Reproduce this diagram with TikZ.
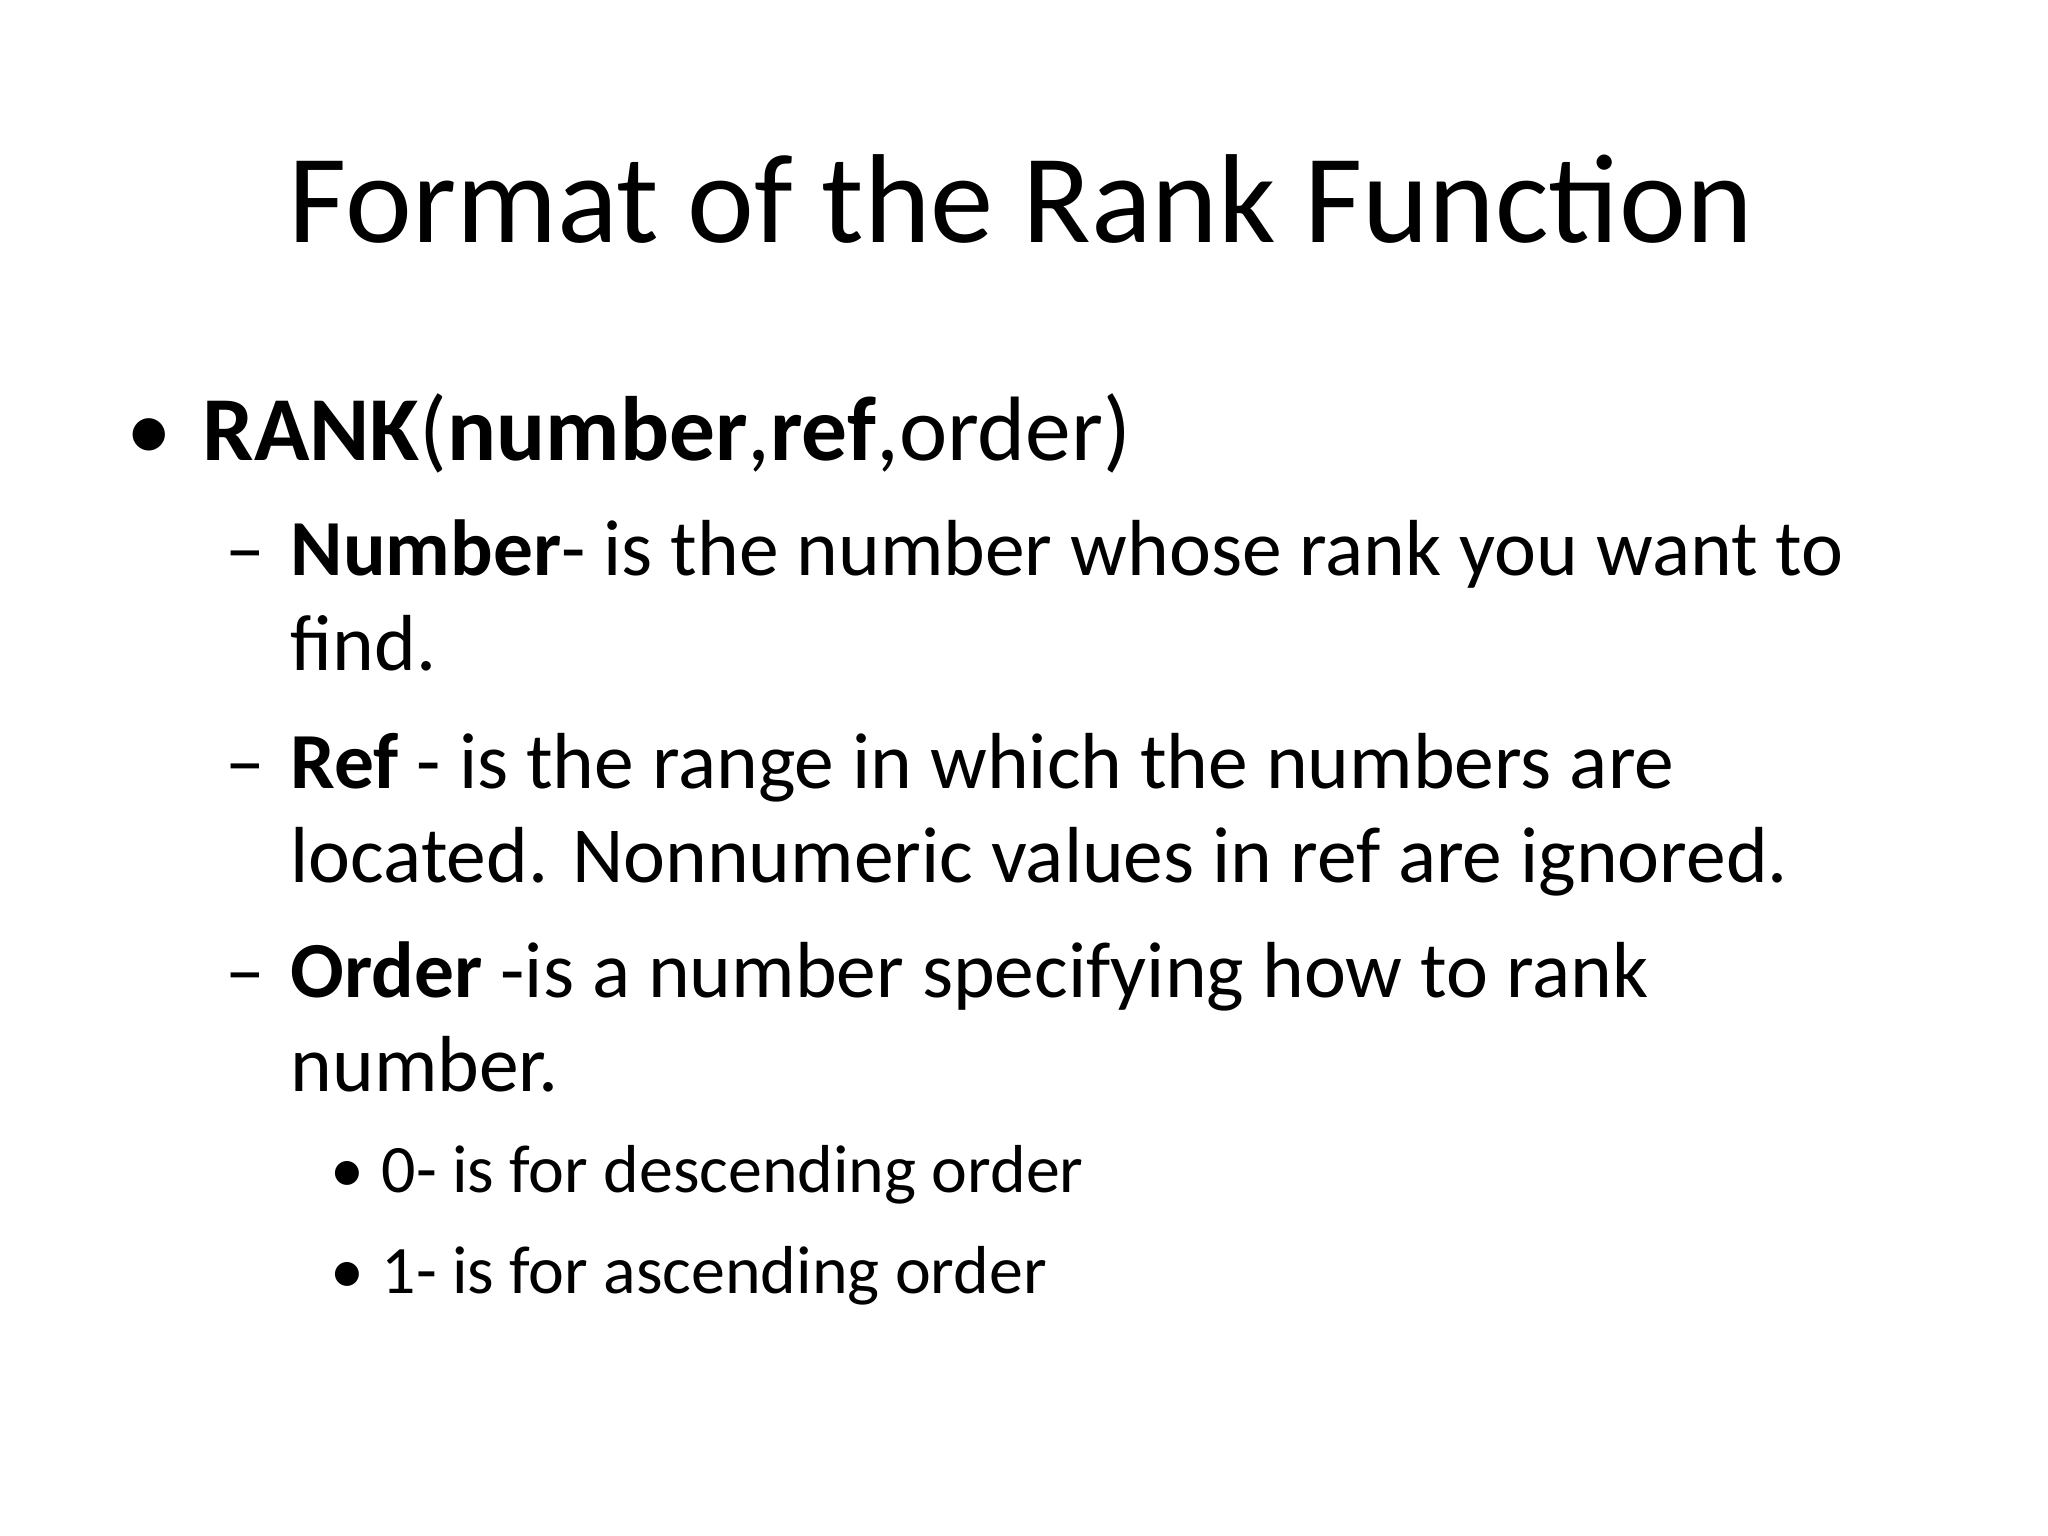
\documentclass[tikz,border=0pt]{standalone}
\usepackage{fontspec}
\setmainfont{Carlito}
\begin{document}
\begin{tikzpicture}[x=0.01cm,y=-0.01cm,
  t/.style={anchor=base west,inner sep=0pt},
  lone/.style={t,font=\fontsize{26}{30}\selectfont},
  ltwo/.style={t,font=\fontsize{22.6}{27}\selectfont},
  lthree/.style={t,font=\fontsize{19.3}{23}\selectfont}]
\useasboundingbox (0,0) rectangle (2048,1536);
\node[anchor=base,inner sep=0pt,font=\fontsize{36}{40}\selectfont] (title) at (1021,242) {Format of the Rank Function};
\node[lone] (b1) at (126,460) {•};
\node[lone] (l1) at (202,460) {\textbf{RANK}(\textbf{number},\textbf{ref},order)};
\node[ltwo] (d1) at (225,575) {–};
\node[ltwo] (a1) at (290,575) {\textbf{Number}- is the number whose rank you want to};
\node[ltwo] (a2) at (290,670) {find.};
\node[ltwo] (d2) at (225,788) {–};
\node[ltwo] (b2a) at (290,788) {\textbf{Ref} - is the range in which the numbers are};
\node[ltwo] (b2b) at (290,882) {located. Nonnumeric values in ref are ignored.};
\node[ltwo] (d3) at (225,997) {–};
\node[ltwo] (c1) at (290,997) {\textbf{Order} -is a number specifying how to rank};
\node[ltwo] (c2) at (290,1091) {number.};
\node[lthree] (e1) at (330,1192) {•};
\node[lthree] (f1) at (381,1192) {0- is for descending order};
\node[lthree] (e2) at (330,1293) {•};
\node[lthree] (f2) at (381,1293) {1- is for ascending order};
\end{tikzpicture}
\end{document}
